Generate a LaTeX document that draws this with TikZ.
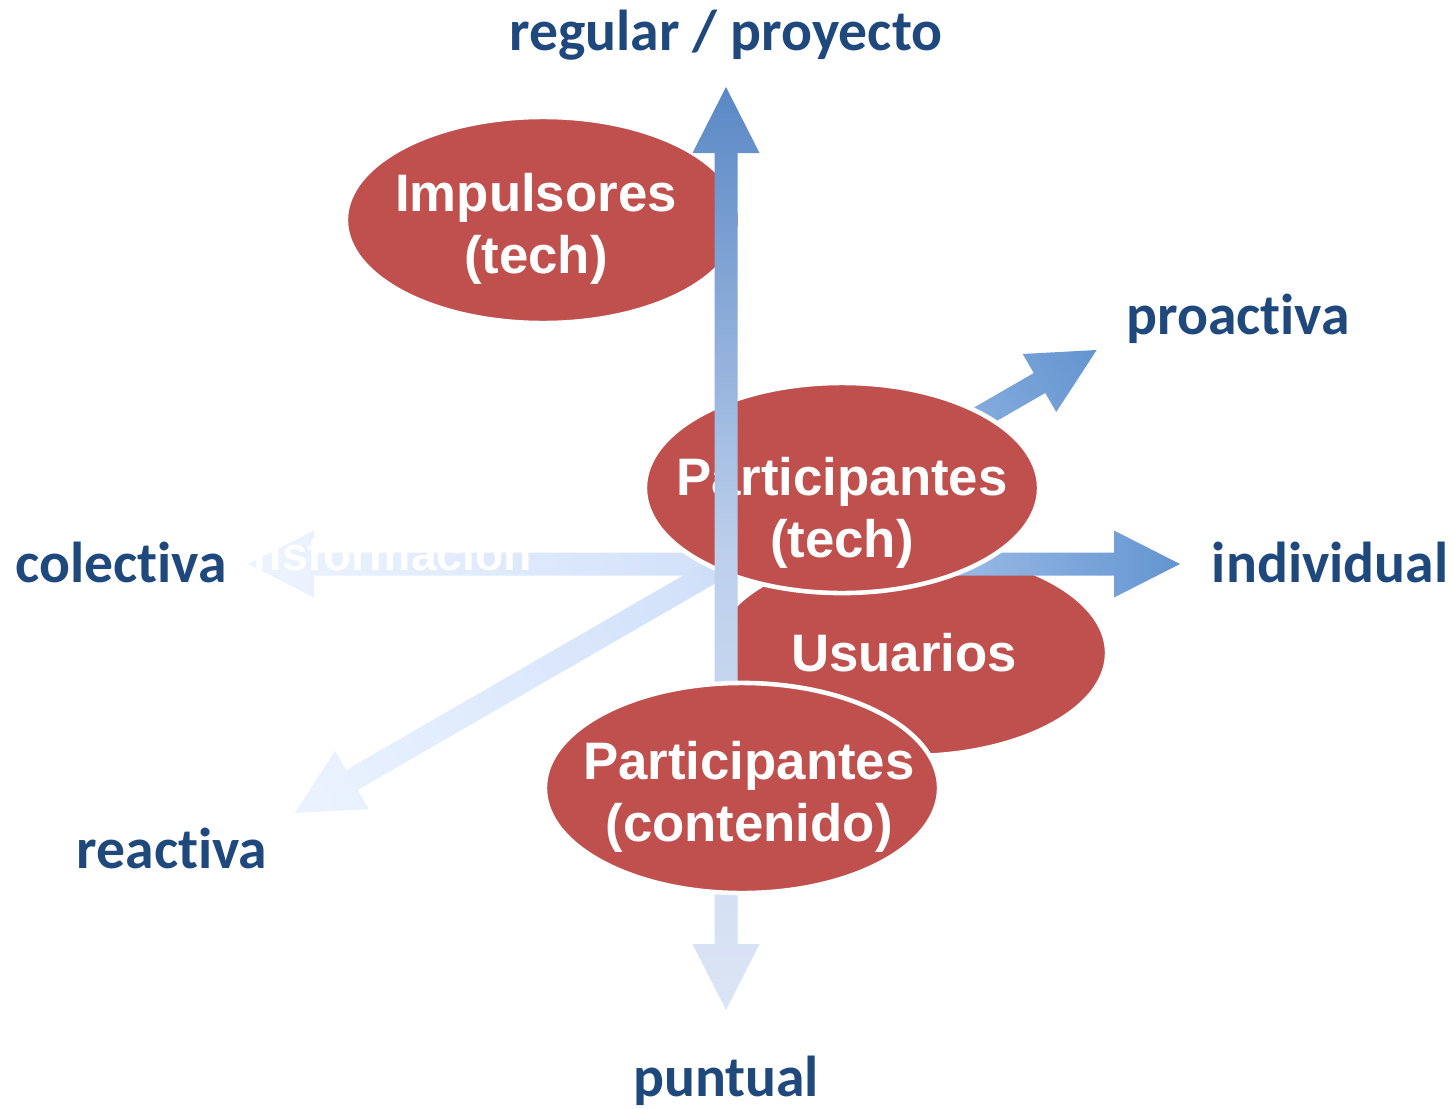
\documentclass[tikz,border=0pt]{standalone}
\usepackage{fontspec}
\setmainfont{Liberation Sans}
\newfontfamily\lblfont[Ligatures=NoCommon]{Carlito}
\usetikzlibrary{shapes.geometric}
\definecolor{lblblue}{HTML}{1F497D}
\definecolor{ellred}{HTML}{C0504D}
\definecolor{vtop}{HTML}{5A88C5}
\definecolor{vmid}{HTML}{BCCFEC}
\definecolor{vbot}{HTML}{DCE5F5}
\definecolor{hleft}{HTML}{EEF4FE}
\definecolor{hmid}{HTML}{D2E1FA}
\definecolor{hright}{HTML}{6395D1}
\definecolor{dll}{HTML}{EBF3FE}
\definecolor{dmid}{HTML}{D2E1FA}
\definecolor{dur}{HTML}{6394D0}
% #1 angle, #2 back length, #3 front length, #4 back colour, #5 middle colour, #6 front colour
\newcommand{\axisarrow}[6]{%
  \begin{scope}[transform canvas={shift={(ctr)},rotate=#1}]
    \shade[left color=#4,right color=#6,middle color=#5]
      (-#2,0) -- (-#2+66,33.5) -- (-#2+66,11.5) -- (#3-66,11.5) -- (#3-66,33.5) -- (#3,0)
      -- (#3-66,-33.5) -- (#3-66,-11.5) -- (-#2+66,-11.5) -- (-#2+66,-33.5) -- cycle;
  \end{scope}}
\tikzset{
  ell/.style={ellipse, fill=ellred, draw=white, line width=1.3pt, inner sep=0pt},
  etxt/.style={text=white, font=\fontsize{15}{17.6}\selectfont\bfseries, align=center, inner sep=0pt},
  lbl/.style={text=lblblue, font=\lblfont\bfseries\fontsize{16.4}{19}\selectfont, inner sep=0pt, anchor=base},
}
\begin{document}
\begin{tikzpicture}[x=0.01cm, y=-0.01cm]
\useasboundingbox[fill=white] (0,0) rectangle (1454,1109);
\coordinate (ctr) at (726,564);
% Impulsores
\node[ell, minimum width=3.94cm, minimum height=2.06cm] (imp) at (543,220) {};
\node[etxt] (imptxt) at (536,229) {Impulsores\\(tech)};
% Usuarios
\node[ell, minimum width=3.94cm, minimum height=2.06cm] (usu) at (910,653) {};
\node[etxt, anchor=base] (usutxt) at (904,671) {Usuarios};
% horizontal axis
\axisarrow{0}{478}{454}{hleft}{hmid}{hright}
\node[text=white, font=\fontsize{13.2}{15}\selectfont\bfseries, anchor=base west, inner sep=0pt] (trans) at (253,570) {nsformación};
% diagonal axis
\axisarrow{30}{498}{428}{dll}{dmid}{dur}
% Participantes (tech)
\node[ell, minimum width=3.94cm, minimum height=2.10cm] (tech) at (842,488) {};
\node[etxt] (techtxt) at (842,513) {Participantes\\(tech)};
% vertical axis
\axisarrow{90}{446}{477}{vbot}{vmid}{vtop}
% Participantes (contenido)
\node[ell, minimum width=3.94cm, minimum height=2.10cm] (cont) at (742,788) {};
\node[etxt] (conttxt) at (749,797) {Participantes\\(contenido)};
% axis labels
\node[lbl] (reg) at (726,51) {regular / proyecto};
\node[lbl] (pro) at (1238,334) {proactiva};
\node[lbl] (ind) at (1330,582) {individual};
\node[lbl] (col) at (121,582) {colectiva};
\node[lbl] (rea) at (172,868) {reactiva};
\node[lbl] (pun) at (726,1096) {puntual};
\end{tikzpicture}
\end{document}
